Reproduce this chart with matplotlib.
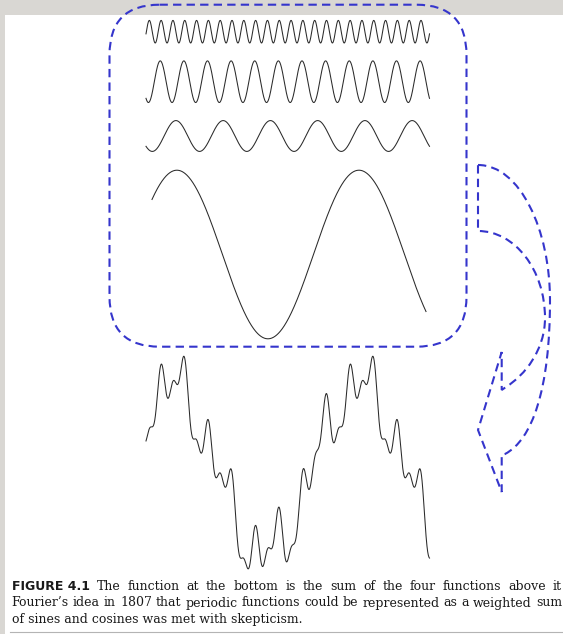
import numpy as np
import matplotlib
matplotlib.use("Agg")
import matplotlib.pyplot as plt
from matplotlib.patches import FancyBboxPatch, PathPatch, Rectangle
from matplotlib.path import Path

# ---------- Data ----------
# four cosine components (fundamental = 1), bottom curve is their sum
HARMONICS = [1, 4, 8, 16]
AMPLITUDES = [1.0, 0.183, 0.247, 0.134]
PHASES_DEG = [46, -132, -143, 101]

CAPTION_LABEL = "FIGURE 4.1"
CAPTION_LINES = [
    "The function at the bottom is the sum of the four functions above it",
    "Fourier\u2019s idea in 1807 that periodic functions could be represented as a weighted sum",
    "of sines and cosines was met with skepticism.",
]

# ---------- Layout (pixels) ----------
W, H = 563, 634
UNIT = 84.3          # px per unit amplitude
X0, PERIOD = 146, 189
BLUE = "#3535cc"
INK = "#2a2a2a"
DASH = (0, (4, 2.5))


def component(t, i):
    k = HARMONICS[i]
    return AMPLITUDES[i] * np.cos(2 * np.pi * k * t - np.radians(PHASES_DEG[i]))


def justify(ax, tokens, y, x0, x1):
    """Place words on one baseline so they span x0..x1 exactly."""
    texts = [ax.text(0, y, s, ha="left", va="baseline", **kw) for s, kw in tokens]
    ax.figure.canvas.draw()
    widths = [t.get_window_extent().width for t in texts]
    gap = (x1 - x0 - sum(widths)) / (len(texts) - 1)
    x = x0
    for t, w in zip(texts, widths):
        t.set_x(x)
        x += w + gap


def main():
    fig = plt.figure(figsize=(W / 100, H / 100), dpi=100, facecolor="#d9d7d3")
    ax = fig.add_axes([0, 0, 1, 1])
    ax.set_xlim(0, W)
    ax.set_ylim(H, 0)
    ax.axis("off")

    # white page on the grey slide background
    ax.add_patch(Rectangle((4.7, 14.7), W, H, facecolor="white", edgecolor="none"))

    # component rows, highest frequency on top: (index, centre y, x start, x end, t start, t end)
    rows = [(3, 31.7, X0, X0 + 1.5 * PERIOD, 0.0, 1.5),
            (2, 81.7, X0, X0 + 1.5 * PERIOD, 0.0, 1.5),
            (1, 136.0, X0, X0 + 1.5 * PERIOD, 0.0, 1.5),
            (0, 254.5, 152, 426, -0.009, 1.496)]
    for i, yc, xa, xb, ta, tb in rows:
        t = np.linspace(ta, tb, 3000)
        x = xa + (t - ta) / (tb - ta) * (xb - xa)
        ax.plot(x, yc - UNIT * component(t, i), color=INK, lw=0.75)

    # the sum
    t = np.linspace(0, 1.5, 4000)
    total = sum(component(t, i) for i in range(len(HARMONICS)))
    ax.plot(X0 + t * PERIOD, 470.4 - UNIT * total, color=INK, lw=0.75)

    # dashed rounded box around the components
    ax.add_patch(FancyBboxPatch((109.5, 4.7), 357, 342,
                                boxstyle="round,pad=0,rounding_size=50",
                                facecolor="none", edgecolor=BLUE, lw=1.5,
                                linestyle=DASH))

    # dashed curved arrow pointing to the sum
    verts = [(478, 165),
             (520, 165), (550, 230), (550, 300),
             (550, 390), (532, 440), (505, 454),
             (501.7, 455), (501.7, 492), (478, 430), (501.7, 352), (501.7, 390),
             (506, 387),
             (525, 375), (545, 350), (545, 318),
             (545, 270), (515, 231), (478, 231),
             (478, 165)]
    codes = ([Path.MOVETO] + [Path.CURVE4] * 6 + [Path.LINETO] * 6
             + [Path.CURVE4] * 6 + [Path.LINETO])
    ax.add_patch(PathPatch(Path(verts, codes), facecolor="none", edgecolor=BLUE,
                           lw=1.5, linestyle=DASH))

    # caption
    serif = dict(family="DejaVu Serif", fontsize=9, color="#1a1a1a")
    bold = dict(family="DejaVu Sans", fontweight="bold", fontsize=9, color="#1a1a1a")
    first = [(CAPTION_LABEL, bold)] + [(w, serif) for w in CAPTION_LINES[0].split()]
    justify(ax, first, 590, 11.7, 562)
    justify(ax, [(w, serif) for w in CAPTION_LINES[1].split()], 606.5, 11.7, 562)
    ax.text(11.7, 623, CAPTION_LINES[2], ha="left", va="baseline", **serif)
    ax.plot([10, W], [631.5, 631.5], color="#b4b4b4", lw=0.8)

    fig.savefig("out.png", dpi=100, facecolor=fig.get_facecolor())
    plt.close(fig)


if __name__ == "__main__":
    main()
